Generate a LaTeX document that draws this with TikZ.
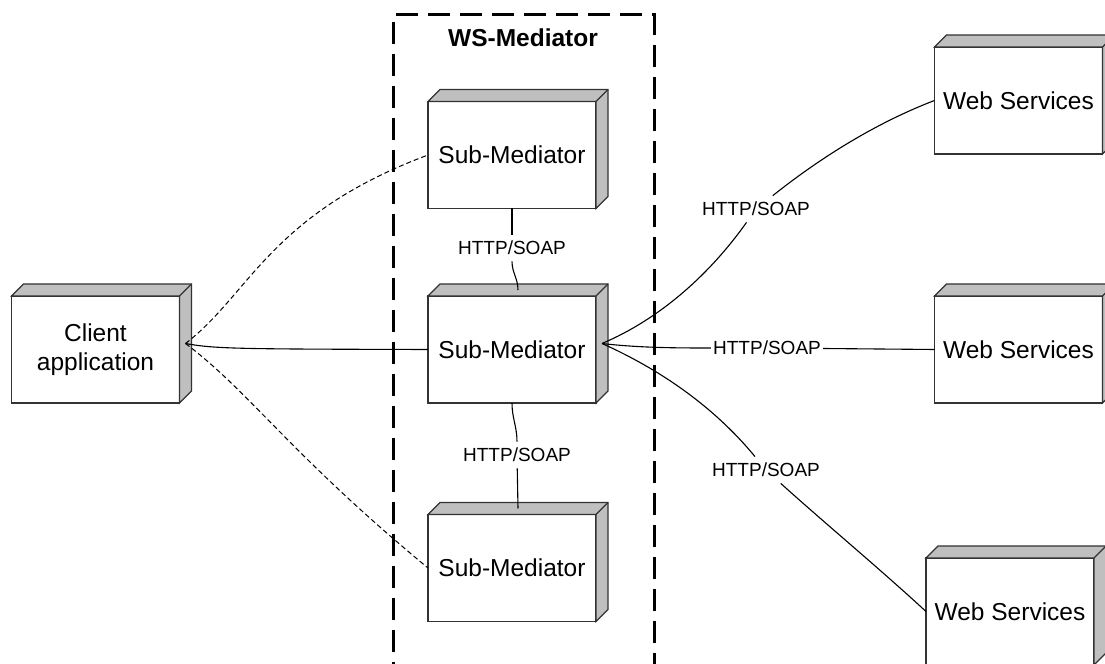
\documentclass[tikz,border=0pt]{standalone}
\usepackage{fontspec}
\setmainfont{Liberation Sans}
\usetikzlibrary{calc}

\begin{document}
\begin{tikzpicture}[x=0.5pt,y=0.5pt,
	device/.style={draw=black!80,line width=0.6pt,fill=white,minimum width=84pt,minimum height=53.5pt,inner sep=0pt,outer sep=0pt,align=center,font=\fontsize{12.25}{14.5}\selectfont},
	face/.style={draw=black!80,line width=0.6pt,fill=black!25},
	proto/.style={inner xsep=1pt,inner ysep=3pt,font=\fontsize{9.5}{11}\selectfont},
	link/.style={line width=0.55pt},
	calllink/.style={line width=0.5pt,dash pattern=on 2.5pt off 1.5pt}]
	\useasboundingbox (0,0) rectangle (1105,664);
	\clip (0,0) rectangle (1105,664);
	\draw[line width=1.5pt,dash pattern=on 11pt off 5pt] (393,-20) -- (393,649) -- (654,649) -- (654,-20);
	\node[font=\bfseries\fontsize{12.25}{14.5}\selectfont] (wsm) at (523,626) {WS-Mediator};
	\node[device] (client) at (95.5,314.5) {Client\\application};
	\node[device] (sm1) at (512,509) {Sub-Mediator};
	\node[device] (sm2) at (512,314.5) {Sub-Mediator};
	\node[device] (sm3) at (512,96) {Sub-Mediator};
	\node[device] (ws1) at (1018.5,563.5) {Web Services};
	\node[device] (ws2) at (1018.5,314.5) {Web Services};
	\node[device] (ws3) at (1010,52.5) {Web Services};
	\foreach \n in {client,sm1,sm2,sm3,ws1,ws2,ws3} {
		\filldraw[face] (\n.north west) -- ++(6pt,6pt) -- ($(\n.north east)+(6pt,6pt)$) -- ($(\n.south east)+(6pt,6pt)$) -- (\n.south east) -- (\n.north east) -- cycle;
		\draw[face,fill=none] (\n.north east) -- ++(6pt,6pt);
	}
	\coordinate (cr) at ($(client.east)+(3pt,3pt)$);
	\coordinate (s2r) at ($(sm2.east)+(3pt,3pt)$);
	\coordinate (s2t) at ($(sm2.north)+(3pt,3pt)$);
	\coordinate (s3t) at ($(sm3.north)+(3pt,3pt)$);
	\node[proto] (p1) at (512,416) {HTTP/SOAP};
	\node[proto] (p2) at (517,209) {HTTP/SOAP};
	\node[proto] (p3) at (756,455) {HTTP/SOAP};
	\node[proto] (p4) at (767,316) {HTTP/SOAP};
	\node[proto] (p5) at (766,194) {HTTP/SOAP};
	\draw[calllink] (cr) .. controls (250,370) and (270,450) .. (sm1.west);
	\draw[link] (cr) .. controls (215,315) and (240,315) .. (sm2.west);
	\draw[calllink] (cr) .. controls (250,272) and (290,210) .. (sm3.west);
	\draw[link] (sm1.south) -- (p1);
	\draw[link] (p1) to[out=-90,in=90] (s2t);
	\draw[link] (sm2.south) to[out=-90,in=90] (p2);
	\draw[link] (p2) -- (s3t);
	\draw[link] (s2r) .. controls (660,345) and (710,390) .. (p3);
	\draw[link] (p3) .. controls (800,490) and (860,535) .. (ws1.west);
	\draw[link] (s2r) .. controls (640,316) and (680,316) .. (p4);
	\draw[link] (p4) -- (ws2.west);
	\draw[link] (s2r) .. controls (670,290) and (720,250) .. (p5);
	\draw[link] (p5) .. controls (820,145) and (880,95) .. (ws3.west);
\end{tikzpicture}
\end{document}
